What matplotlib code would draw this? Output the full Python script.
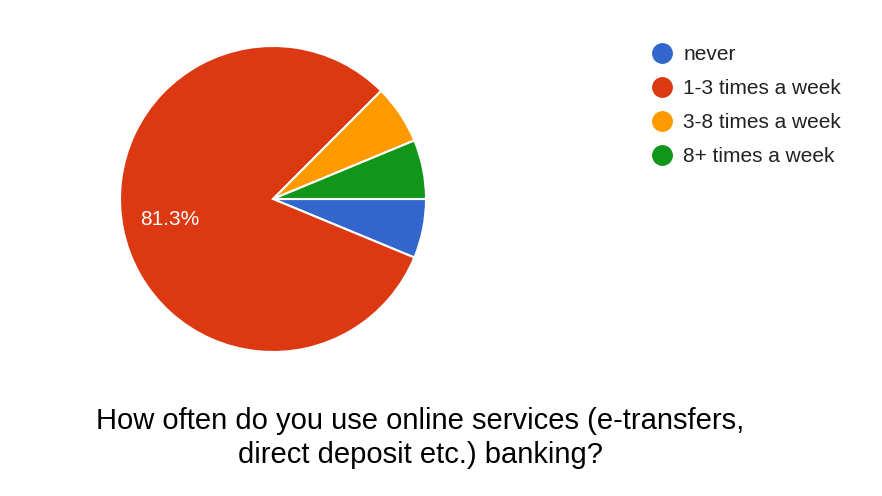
import matplotlib.pyplot as plt
from matplotlib.lines import Line2D

# survey answers (16 responses)
labels = ["never", "1-3 times a week", "3-8 times a week", "8+ times a week"]
counts = [1, 13, 1, 1]
colors = ["#3366cc", "#dc3912", "#ff9900", "#109618"]
title = "How often do you use online services (e-transfers,\ndirect deposit etc.) banking?"

plt.rcParams["font.family"] = ["Liberation Sans", "DejaVu Sans"]

W, H = 882, 496
fig = plt.figure(figsize=(W / 100, H / 100), dpi=100)

# pie centre (273, 199) px from top-left, radius ~153 px
cx, cy, r = 273, 199, 153
ax = fig.add_axes([(cx - r) / W, (H - cy - r) / H, 2 * r / W, 2 * r / H])


def pct_label(p):
    # google forms only prints labels on big slices, rounds half up
    if p <= 10:
        return ""
    return f"{int(p * 10 + 0.5 + 1e-6) / 10:.1f}%"


wedges, texts, autotexts = ax.pie(
    counts, colors=colors, startangle=0, counterclock=False,
    autopct=pct_label, pctdistance=0.69,
    wedgeprops=dict(edgecolor="white", linewidth=1.5),
    textprops=dict(color="white", fontsize=15),
)
ax.set_xlim(-1, 1)
ax.set_ylim(-1, 1)
ax.set_aspect("equal")
ax.axis("off")

handles = [Line2D([], [], marker="o", linestyle="none", markersize=14,
                  markerfacecolor=c, markeredgecolor=c) for c in colors]
fig.legend(handles, labels, loc="upper left",
           bbox_to_anchor=(652 / W, 1 - 45 / H), frameon=False,
           fontsize=15, labelcolor="#222222", handlelength=1.0,
           handletextpad=0.5, labelspacing=0.72, borderpad=0,
           borderaxespad=0)

fig.text(420 / W, 1 - 438 / H, title, ha="center", va="center",
         fontsize=21, color="black", linespacing=1.3)

fig.savefig("out.png", dpi=100)
